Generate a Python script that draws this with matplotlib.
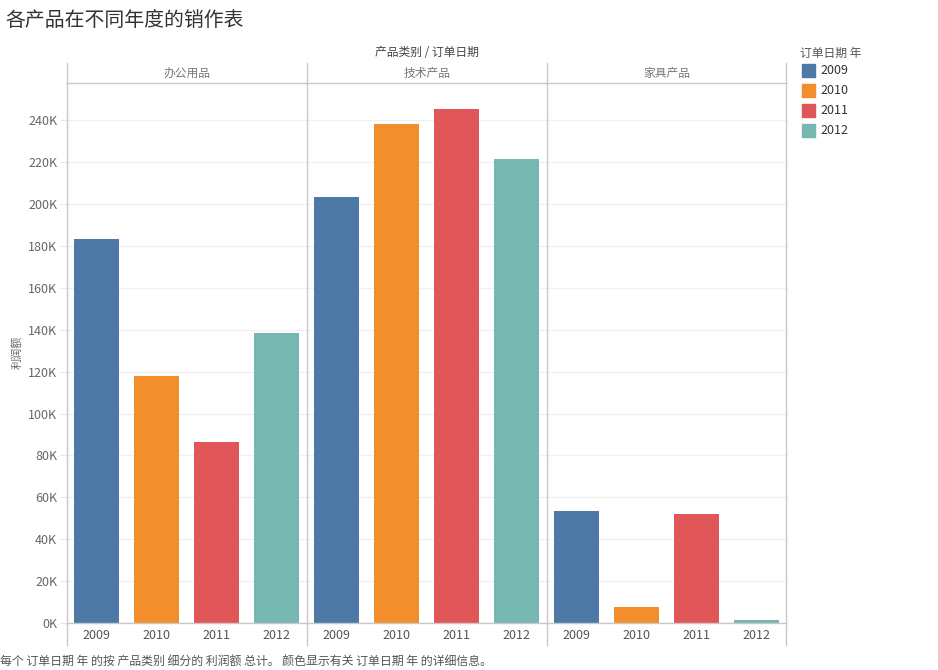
import matplotlib
matplotlib.use("Agg")
import matplotlib.pyplot as plt
from matplotlib.patches import Rectangle

plt.rcParams['font.family'] = ['Noto Sans CJK SC', 'DejaVu Sans']

# data (利润额, in K)
categories = ["办公用品", "技术产品", "家具产品"]
years = ["2009", "2010", "2011", "2012"]
profit_k = {
    "办公用品": [183.3, 117.9, 86.3, 138.4],
    "技术产品": [203.4, 238.3, 245.4, 221.5],
    "家具产品": [53.4, 7.5, 51.9, 1.3],
}
colors = ["#4e79a7", "#f28e2b", "#e15759", "#76b7b2"]
yticks = list(range(0, 260, 20))

W, H = 938, 670
fig = plt.figure(figsize=(W / 100, H / 100), dpi=100)

# pixel layout
left0 = 67
panel_w = 240
top = 83
bottom = 623
head_top = 63
lab_bottom = 645
grid_c = "#c8c8c8"
text_c = "#666666"

axes = []
for i, cat in enumerate(categories):
    x0 = left0 + panel_w * i
    ax = fig.add_axes([x0 / W, (H - bottom) / H, (panel_w - 1) / W, (bottom - top) / H])
    ax.bar(range(len(years)), profit_k[cat], width=0.75, color=colors, zorder=3)
    ax.set_xlim(-0.5, 3.5)
    ax.set_ylim(0, 257.9)
    ax.set_yticks(yticks)
    ax.yaxis.grid(True, color="#f0f0f0", lw=1, zorder=0)
    for s in ax.spines.values():
        s.set_visible(False)
    ax.set_xticks(range(len(years)))
    ax.set_xticklabels(years, fontsize=9, color="#555555")
    ax.tick_params(axis="x", length=0, pad=4)
    if i == 0:
        ax.set_yticklabels([f"{v}K" for v in yticks], fontsize=9, color=text_c)
        ax.tick_params(axis="y", length=5, color="#e6e6e6", pad=2)
    else:
        ax.tick_params(axis="y", length=0, labelleft=False)
    axes.append(ax)

# overlay for frame lines and text in pixel coordinates
ov = fig.add_axes([0, 0, 1, 1], zorder=5)
ov.set_xlim(0, W)
ov.set_ylim(H, 0)
ov.axis("off")
ov.patch.set_alpha(0)

right = left0 + panel_w * len(categories) - 1
for i in range(len(categories) + 1):
    x = left0 + panel_w * i - (1 if i == len(categories) else 0)
    ov.plot([x, x], [head_top, lab_bottom], color=grid_c, lw=1)
ov.plot([left0, right], [top, top], color=grid_c, lw=1)
ov.plot([left0, right], [bottom, bottom], color=grid_c, lw=1)

for i, cat in enumerate(categories):
    cx = left0 + panel_w * i + panel_w / 2
    ov.text(cx, 73, cat, ha="center", va="center", fontsize=8.5, color="#777777")

ov.text((left0 + right) / 2, 53, "产品类别 / 订单日期", ha="center", va="center",
        fontsize=8.5, color="#444444")
ov.text(17, 352, "利润额", ha="center", va="center", rotation=90, fontsize=8, color=text_c)
ov.text(5, 20, "各产品在不同年度的销作表", ha="left", va="center", fontsize=14.3, color="#333333")
ov.text(0, 661, "每个 订单日期 年 的按 产品类别 细分的 利润额 总计。 颜色显示有关 订单日期 年 的详细信息。",
        ha="left", va="center", fontsize=8.6, color="#555555")

# legend
ov.text(800, 53, "订单日期 年", ha="left", va="center", fontsize=8.5, color="#555555")
for k, (yr, c) in enumerate(zip(years, colors)):
    yc = 71 + 20 * k
    ov.add_patch(Rectangle((802, yc - 7), 13, 13, color=c))
    ov.text(820, yc, yr, ha="left", va="center", fontsize=9, color="#333333")

fig.savefig("out.png", dpi=100)
